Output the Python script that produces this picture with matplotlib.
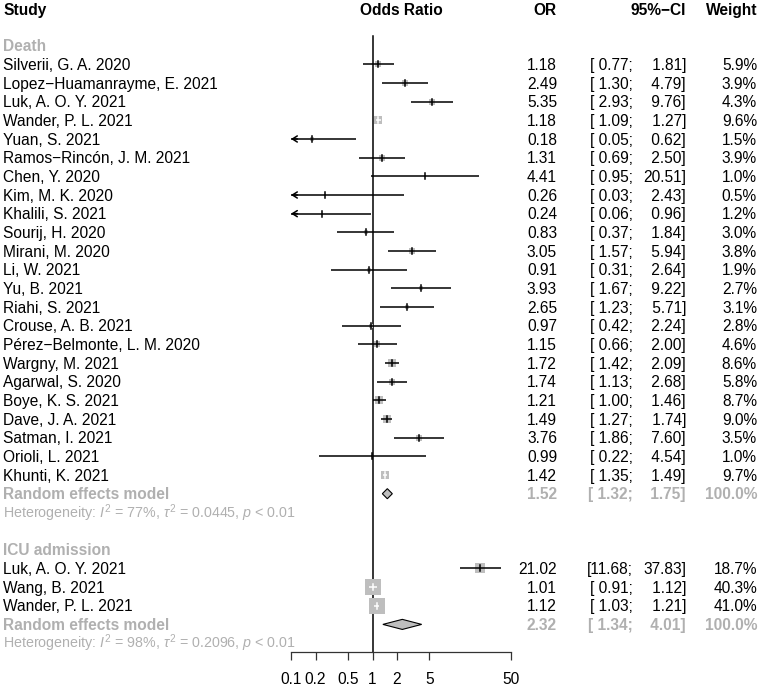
import numpy as np
import matplotlib
matplotlib.use("Agg")
import matplotlib.pyplot as plt
from matplotlib.transforms import blended_transform_factory
from matplotlib.ticker import NullLocator

plt.rcParams['font.family'] = ['Liberation Sans', 'DejaVu Sans']
plt.rcParams['mathtext.fontset'] = 'custom'
plt.rcParams['mathtext.rm'] = 'Liberation Sans'
plt.rcParams['mathtext.it'] = 'Liberation Sans:italic'
plt.rcParams['mathtext.bf'] = 'Liberation Sans:bold'

# ---------------- data ----------------
death_studies = ["Silverii, G. A. 2020", "Lopez\u2212Huamanrayme, E. 2021", "Luk, A. O. Y. 2021",
                 "Wander, P. L. 2021", "Yuan, S. 2021", "Ramos\u2212Rincón, J. M. 2021", "Chen, Y. 2020",
                 "Kim, M. K. 2020", "Khalili, S. 2021", "Sourij, H. 2020", "Mirani, M. 2020", "Li, W. 2021",
                 "Yu, B. 2021", "Riahi, S. 2021", "Crouse, A. B. 2021", "Pérez\u2212Belmonte, L. M. 2020",
                 "Wargny, M. 2021", "Agarwal, S. 2020", "Boye, K. S. 2021", "Dave, J. A. 2021",
                 "Satman, I. 2021", "Orioli, L. 2021", "Khunti, K. 2021"]
death_or = [1.18, 2.49, 5.35, 1.18, 0.18, 1.31, 4.41, 0.26, 0.24, 0.83, 3.05, 0.91,
            3.93, 2.65, 0.97, 1.15, 1.72, 1.74, 1.21, 1.49, 3.76, 0.99, 1.42]
death_lo = [0.77, 1.30, 2.93, 1.09, 0.05, 0.69, 0.95, 0.03, 0.06, 0.37, 1.57, 0.31,
            1.67, 1.23, 0.42, 0.66, 1.42, 1.13, 1.00, 1.27, 1.86, 0.22, 1.35]
death_hi = [1.81, 4.79, 9.76, 1.27, 0.62, 2.50, 20.51, 2.43, 0.96, 1.84, 5.94, 2.64,
            9.22, 5.71, 2.24, 2.00, 2.09, 2.68, 1.46, 1.74, 7.60, 4.54, 1.49]
death_w = [5.9, 3.9, 4.3, 9.6, 1.5, 3.9, 1.0, 0.5, 1.2, 3.0, 3.8, 1.9,
           2.7, 3.1, 2.8, 4.6, 8.6, 5.8, 8.7, 9.0, 3.5, 1.0, 9.7]
death_re = [1.52, 1.32, 1.75]
death_het = ["77%", "0.0445", "< 0.01"]

icu_studies = ["Luk, A. O. Y. 2021", "Wang, B. 2021", "Wander, P. L. 2021"]
icu_or = [21.02, 1.01, 1.12]
icu_lo = [11.68, 0.91, 1.03]
icu_hi = [37.83, 1.12, 1.21]
icu_w = [18.7, 40.3, 41.0]
icu_re = [2.32, 1.34, 4.01]
icu_het = ["98%", "0.2096", "< 0.01"]

group_names = ["Death", "ICU admission"]
tick_values = [0.1, 0.2, 0.5, 1, 2, 5, 50]
tick_labels = ["0.1", "0.2", "0.5", "1", "2", "5", "50"]

# ---------------- layout / style ----------------
W, H = 760, 688
ROW_PX = 18.67
ROW0_PX = 64.3
XL, XR = 291, 511
FS = 11.2
FS_HET = 10.3
GRAY_TXT = "#b0b0b0"
SQCOL = "#bebebe"
LW = 1.1
DEC_PX = (XR - XL) / np.log10(50 / 0.1)

fig = plt.figure(figsize=(W / 100, H / 100), dpi=100)
ax = fig.add_axes([XL / W, 0, (XR - XL) / W, 1])
ax.set_xscale('log')
ax.set_xlim(0.1, 50)
ax.set_ylim((H - ROW0_PX) / ROW_PX, -ROW0_PX / ROW_PX)
for s in ['left', 'right', 'top']:
    ax.spines[s].set_visible(False)
ax.patch.set_visible(False)
ax.set_yticks([])
ax.spines['bottom'].set_position(('data', 31.5))
ax.spines['bottom'].set_bounds(0.1, 50)
ax.spines['bottom'].set_linewidth(0.9)
ax.spines['bottom'].set_color('#333333')
ax.set_xticks(tick_values, tick_labels)
ax.xaxis.set_minor_locator(NullLocator())
ax.tick_params(axis='x', length=5.5, width=0.9, pad=8.5, labelsize=FS, direction='out', colors='#333333',
               labelcolor='black')

tr = blended_transform_factory(fig.transFigure, ax.transData)


def txt(xpx, row, s, ha='left', color='black', weight='normal', size=FS):
    off = 0.716 * size * 100 / 72 / 2 / ROW_PX
    ax.text(xpx / W, row + off, s, ha=ha, va='baseline', color=color, fontweight=weight,
            fontsize=size, transform=tr, clip_on=False)


X_STUDY, X_OR, X_LO, X_HI, X_W = 3, 557, 633, 686, 757

# headers
hr = -2.95
txt(X_STUDY, hr, "Study", weight='bold')
txt((XL + XR) / 2, hr, "Odds Ratio", ha='center', weight='bold')
txt(X_OR, hr, "OR", ha='right', weight='bold')
txt(X_HI, hr, "95%\u2212CI", ha='right', weight='bold')
txt(X_W, hr, "Weight", ha='right', weight='bold')

# reference line
ax.plot([1, 1], [-1.5, 31.5], color='black', lw=LW, zorder=1)


def draw_study(row, est, lo, hi, w, sq):
    side = sq * np.sqrt(w)
    ax.scatter([est], [row], marker='s', s=(side * 72 / 100) ** 2, color=SQCOL, linewidths=0, zorder=3)
    inside = DEC_PX * np.log10(est / lo) < side / 2 and DEC_PX * np.log10(hi / est) < side / 2
    lc = 'white' if inside else 'black'
    left = max(lo, 0.1)
    ax.plot([left, min(hi, 50)], [row, row], color=lc, lw=LW, zorder=4, solid_capstyle='butt')
    if lo < 0.1:
        ax.annotate('', xy=(0.1, row), xytext=(0.12, row),
                    arrowprops=dict(arrowstyle='->,head_length=0.35,head_width=0.22', lw=LW,
                                    color='black', shrinkA=0, shrinkB=0), zorder=4)
    ax.plot([est, est], [row - 0.16, row + 0.16], color=lc, lw=LW, zorder=5)


def draw_values(row, est, lo, hi, w, color='black', weight='normal'):
    txt(X_OR, row, f"{est:.2f}", ha='right', color=color, weight=weight)
    txt(X_LO, row, f"[{lo:5.2f};", ha='right', color=color, weight=weight)
    txt(X_HI, row, f"{hi:5.2f}]", ha='right', color=color, weight=weight)
    txt(X_W, row, f"{w:.1f}%", ha='right', color=color, weight=weight)


def draw_group(start, name, studies, ors, los, his, ws, re, het, sq):
    txt(X_STUDY, start, name, color=GRAY_TXT, weight='bold')
    for i, (s, e, l, h, w) in enumerate(zip(studies, ors, los, his, ws)):
        r = start + 1 + i
        txt(X_STUDY, r, s)
        draw_study(r, e, l, h, w, sq)
        draw_values(r, e, l, h, w)
    rr = start + 1 + len(studies)
    txt(X_STUDY, rr, "Random effects model", color=GRAY_TXT, weight='bold')
    e, l, h = re
    ax.fill([l, e, h, e], [rr, rr - 0.27, rr, rr + 0.27], facecolor=SQCOL, edgecolor='black',
            lw=0.8, zorder=4)
    draw_values(rr, e, l, h, 100.0, color=GRAY_TXT, weight='bold')
    hs = f"Heterogeneity: $I^2$ = {het[0]}, $\\tau^2$ = {het[1]}, $p$ {het[2]}"
    txt(X_STUDY, rr + 1, hs, color=GRAY_TXT, size=FS_HET)
    return rr + 1


end = draw_group(-1, group_names[0], death_studies, death_or, death_lo, death_hi, death_w,
                 death_re, death_het, 2.7)
draw_group(end + 2, group_names[1], icu_studies, icu_or, icu_lo, icu_hi, icu_w, icu_re, icu_het, 2.47)

fig.savefig("out.png", dpi=100)
